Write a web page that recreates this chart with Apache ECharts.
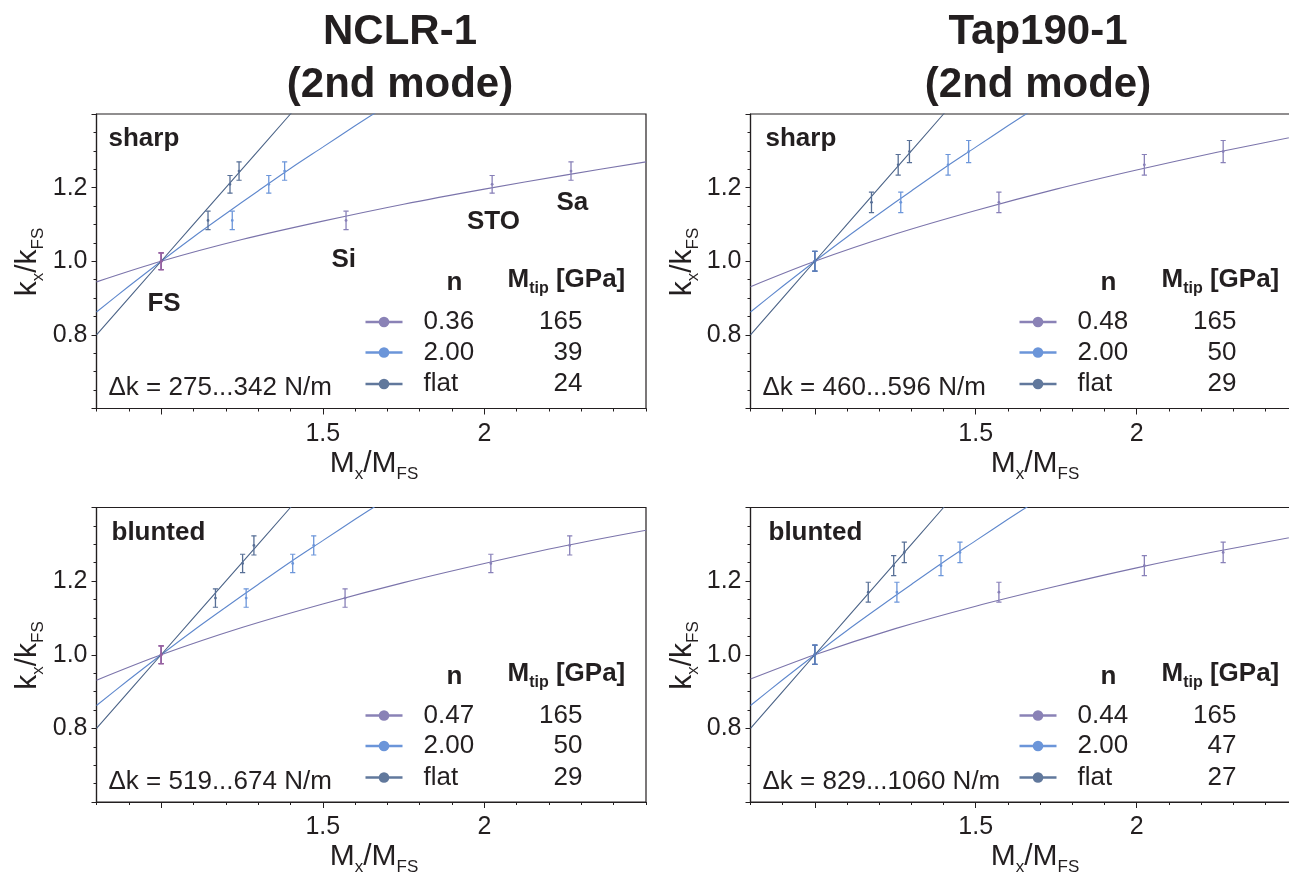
<!DOCTYPE html>
<html><head><meta charset="utf-8">
<script src="https://cdn.jsdelivr.net/npm/echarts@6/dist/echarts.min.js"></script>
<style>html,body{margin:0;padding:0;background:#fff}#c{width:1289px;height:884px}</style>
</head><body><div id="c"></div>
<script>
// ================= DATA =================
const columnTitles = ['NCLR-1\n(2nd mode)', 'Tap190-1\n(2nd mode)'];
const tipTags = ['sharp', 'sharp', 'blunted', 'blunted'];
const materials = ['FS', 'Si', 'STO', 'Sa'];

// measured stiffness ratio k_x/k_FS (FS, Si, STO, Sa)
const kTL = [1.000, 1.111, 1.209, 1.245];
const kTR = [1.000, 1.160, 1.262, 1.298];
const kBL = [1.000, 1.154, 1.248, 1.297];
const kBR = [1.000, 1.170, 1.242, 1.278];
const errTL = [0.023, 0.025, 0.024, 0.025];
const errTR = [0.027, 0.028, 0.028, 0.030];
const errBL = [0.024, 0.025, 0.025, 0.026];
const errBR = [0.026, 0.027, 0.027, 0.028];

// modulus ratio M_x/M_FS for each tip model (n-model, n = 2.00, flat)
const xnTL = [1.000, 1.572, 2.024, 2.268];
const x2TL = [1.000, 1.220, 1.333, 1.382];
const xfTL = [1.000, 1.145, 1.213, 1.241];
const xnTR = [1.000, 1.572, 2.024, 2.269];
const x2TR = [1.000, 1.267, 1.414, 1.478];
const xfTR = [1.000, 1.176, 1.259, 1.294];
const xnBL = [1.000, 1.569, 2.020, 2.264];
const x2BL = [1.000, 1.263, 1.407, 1.472];
const xfBL = [1.000, 1.168, 1.252, 1.287];
const xnBR = [1.000, 1.572, 2.024, 2.269];
const x2BR = [1.000, 1.255, 1.392, 1.451];
const xfBR = [1.000, 1.166, 1.245, 1.278];

// fitted curves
const fitXn = [0.8, 1.0, 1.25, 1.5, 1.75, 2.0, 2.25, 2.5];
const fitN_TL = [0.944, 1.000, 1.059, 1.109, 1.155, 1.196, 1.234, 1.270];
const fitN_TR = [0.931, 1.000, 1.074, 1.138, 1.196, 1.248, 1.296, 1.340];
const fitN_BL = [0.931, 1.000, 1.074, 1.138, 1.196, 1.248, 1.296, 1.338];
const fitN_BR = [0.934, 1.000, 1.071, 1.132, 1.186, 1.236, 1.281, 1.322];
const fitX2 = [0.8, 0.9, 1.0, 1.1, 1.2, 1.3, 1.4, 1.5, 1.6, 1.7];
const fit2 = [0.862, 0.932, 1.000, 1.066, 1.129, 1.191, 1.252, 1.310, 1.368, 1.424];
const fitXf = [0.8, 1.0, 1.2, 1.4, 1.5];
const fitF = [0.800, 1.000, 1.200, 1.400, 1.500];

// legend tables
const nTL = ['0.36', '2.00', 'flat'], mTL = ['165', '39', '24'], dkTL = '275...342 N/m';
const nTR = ['0.48', '2.00', 'flat'], mTR = ['165', '50', '29'], dkTR = '460...596 N/m';
const nBL = ['0.47', '2.00', 'flat'], mBL = ['165', '50', '29'], dkBL = '519...674 N/m';
const nBR = ['0.44', '2.00', 'flat'], mBR = ['165', '47', '27'], dkBR = '829...1060 N/m';

// x tick labels shown
const xTickLabels = ['1.5', '2'];
const xMajorTicks = [1.0, 1.5, 2.0];

// ================= STYLE / LAYOUT =================
const FONT = "'Liberation Sans', Arial, Helvetica, sans-serif";
const INK = '#231f20';
const LINE_COL = ['#7b74ab', '#5f88cd', '#4b6387'];
const ERR_COL = ['#8880b8', '#6c96da', '#576f96'];
const LEG_COL = ['#8a82b6', '#6b95d9', '#61789c'];
const FS_COL = ['#9561a1', '#5a7cb8', '#9561a1', '#5a7cb8'];
const GRIDS = [
  {left: 96.5, top: 114, width: 549.5, height: 294.5},
  {left: 750.5, top: 114, width: 547, height: 294.5},
  {left: 96.5, top: 507.5, width: 549.5, height: 294.5},
  {left: 750.5, top: 507.5, width: 547, height: 294.5}
];
const TAG_DX = [12, 15, 15, 18];

const panels = [
  {k: kTL, err: errTL, xs: [xnTL, x2TL, xfTL], fitN: fitN_TL, nv: nTL, mv: mTL, dk: dkTL},
  {k: kTR, err: errTR, xs: [xnTR, x2TR, xfTR], fitN: fitN_TR, nv: nTR, mv: mTR, dk: dkTR},
  {k: kBL, err: errBL, xs: [xnBL, x2BL, xfBL], fitN: fitN_BL, nv: nBL, mv: mBL, dk: dkBL},
  {k: kBR, err: errBR, xs: [xnBR, x2BR, xfBR], fitN: fitN_BR, nv: nBR, mv: mBR, dk: dkBR}
];

const option = {
  animation: false, backgroundColor: '#ffffff',
  grid: [], xAxis: [], yAxis: [], series: [], graphic: []
};

function zip(a, b) { return a.map((v, i) => [v, b[i]]); }

function errRender(color, fsColor) {
  return function (params, api) {
    const x = api.value(0), y = api.value(1), e = api.value(2);
    const t = api.coord([x, y + e]), b = api.coord([x, y - e]), c = api.coord([x, y]);
    const col = params.dataIndex === 0 ? fsColor : color;
    const w = 2.6;
    return {type: 'group', children: [
      {type: 'line', shape: {x1: t[0], y1: t[1], x2: b[0], y2: b[1]}, style: {stroke: col, lineWidth: 1.3}},
      {type: 'line', shape: {x1: t[0] - w, y1: t[1], x2: t[0] + w, y2: t[1]}, style: {stroke: col, lineWidth: 1.2}},
      {type: 'line', shape: {x1: b[0] - w, y1: b[1], x2: b[0] + w, y2: b[1]}, style: {stroke: col, lineWidth: 1.2}},
      {type: 'circle', shape: {cx: c[0], cy: c[1], r: 1.4}, style: {fill: col}}
    ]};
  };
}

function labelRender(params, api) {
  const c = api.coord([api.value(0), api.value(1)]);
  return {type: 'text', x: c[0], y: c[1],
    style: {text: materials[params.dataIndex], fontSize: 26, fontWeight: 'bold', fontFamily: FONT,
      fill: INK, align: 'center', verticalAlign: 'middle'}};
}

panels.forEach((p, i) => {
  const g = GRIDS[i];
  option.grid.push({left: g.left, top: g.top, width: g.width, height: g.height,
    outerBoundsMode: 'none', containLabel: false,
    show: true, borderColor: INK, borderWidth: 1.2, backgroundColor: 'transparent'});
  option.xAxis.push({
    gridIndex: i, type: 'value', min: 0.8, max: 2.5, interval: 0.1, position: 'bottom',
    axisLine: {show: true, lineStyle: {color: INK, width: 1.2}},
    axisTick: {show: true, length: 3, lineStyle: {color: INK, width: 1}},
    axisLabel: {show: true, margin: 13, fontSize: 25, color: INK, fontFamily: FONT,
      formatter: v => { const s = String(Math.round(v * 10) / 10); return xTickLabels.includes(s) ? s : ''; }},
    splitLine: {show: false}
  });
  option.xAxis.push({
    gridIndex: i, type: 'value', min: 0.8, max: 2.5, position: 'bottom', offset: 0,
    axisLine: {show: false},
    axisTick: {show: true, length: 6, customValues: xMajorTicks, lineStyle: {color: INK, width: 1}},
    axisLabel: {show: false}, splitLine: {show: false}
  });
  option.yAxis.push({
    gridIndex: i, type: 'value', min: 0.6, max: 1.4, interval: 0.2,
    axisLine: {show: true, lineStyle: {color: INK, width: 1.2}},
    axisTick: {show: true, length: 5, lineStyle: {color: INK, width: 1}},
    minorTick: {show: true, splitNumber: 4, length: 3, lineStyle: {color: INK, width: 1}},
    axisLabel: {show: true, margin: 9, fontSize: 25, color: INK, fontFamily: FONT,
      showMinLabel: false, showMaxLabel: false, formatter: v => v.toFixed(1)},
    splitLine: {show: false}, minorSplitLine: {show: false}
  });
  const xi = 2 * i;
  const fits = [zip(fitXn, p.fitN), zip(fitX2, fit2), zip(fitXf, fitF)];
  fits.forEach((d, s) => {
    option.series.push({type: 'line', xAxisIndex: xi, yAxisIndex: i, data: d, showSymbol: false,
      smooth: 0.3, clip: true, silent: true, z: 2,
      lineStyle: {color: LINE_COL[s], width: 1.1}});
  });
  [2, 1, 0].forEach(s => {
    option.series.push({type: 'custom', xAxisIndex: xi, yAxisIndex: i, z: 3, silent: true, clip: true,
      renderItem: errRender(ERR_COL[s], FS_COL[i]),
      data: p.xs[s].map((x, j) => [x, p.k[j], p.err[j]])});
  });

  // tag
  option.graphic.push({type: 'text', x: g.left + TAG_DX[i], y: g.top + 25, z: 10,
    style: {text: tipTags[i], fontSize: 26, fontWeight: 'bold', fontFamily: FONT, fill: INK,
      align: 'left', verticalAlign: 'middle'}});
  // legend headers
  option.graphic.push({type: 'text', x: g.left + 358, y: g.top + 169, z: 10,
    style: {text: 'n', fontSize: 26, fontWeight: 'bold', fontFamily: FONT, fill: INK,
      align: 'center', verticalAlign: 'middle'}});
  option.graphic.push({type: 'text', x: g.left + 411, y: g.top + 169, z: 10,
    style: {text: '{b|M}{s|tip}{b| [GPa]}', fill: INK, align: 'left', verticalAlign: 'middle',
      rich: {
        b: {fontSize: 26, fontWeight: 'bold', fontFamily: FONT, fill: INK, verticalAlign: 'bottom', lineHeight: 28, padding: [0, 0, 4, 0]},
        s: {fontSize: 16, fontWeight: 'bold', fontFamily: FONT, fill: INK, verticalAlign: 'bottom', lineHeight: 16}
      }}});
  const rowsY = [208, 238.5, 270];
  rowsY.forEach((dy, r) => {
    const y = g.top + dy;
    option.graphic.push({type: 'line', z: 10, shape: {x1: g.left + 269, y1: y, x2: g.left + 306, y2: y},
      style: {stroke: LEG_COL[r], lineWidth: 2.6}});
    option.graphic.push({type: 'circle', z: 11, shape: {cx: g.left + 287.5, cy: y, r: 5.3},
      style: {fill: LEG_COL[r]}});
    option.graphic.push({type: 'text', x: g.left + 327, y: y, z: 10,
      style: {text: p.nv[r], fontSize: 26, fontFamily: FONT, fill: INK, align: 'left', verticalAlign: 'middle'}});
    option.graphic.push({type: 'text', x: g.left + 486, y: y, z: 10,
      style: {text: p.mv[r], fontSize: 26, fontFamily: FONT, fill: INK, align: 'right', verticalAlign: 'middle'}});
  });
  option.graphic.push({type: 'text', x: g.left + 12, y: g.top + 274, z: 10,
    style: {text: '\u0394k = ' + p.dk, fontSize: 26, fontFamily: FONT, fill: INK, align: 'left', verticalAlign: 'middle'}});

  // axis titles
  const titleRich = {
    b: {fontSize: 30, fontFamily: FONT, fill: INK, verticalAlign: 'bottom', lineHeight: 30, padding: [0, 0, 4, 0]},
    s: {fontSize: 17, fontFamily: FONT, fill: INK, verticalAlign: 'bottom', lineHeight: 17}
  };
  const xTitleCx = i % 2 === 0 ? 374 : 1035;
  option.graphic.push({type: 'text', x: xTitleCx, y: g.top + g.height + 59, z: 10,
    style: {text: '{b|M}{s|x}{b|/M}{s|FS}', rich: titleRich, align: 'center', verticalAlign: 'middle'}});
  const yTitleCx = i % 2 === 0 ? 32 : 687;
  option.graphic.push({type: 'text', x: yTitleCx, y: g.top + 148, rotation: Math.PI / 2, z: 10,
    style: {text: '{b|k}{s|x}{b|/k}{s|FS}', rich: titleRich, align: 'center', verticalAlign: 'middle'}});
});

// material labels (top-left panel only)
const matLabelX = [1.009, 1.565, 2.028, 2.272];
const matLabelY = [0.883, 1.003, 1.106, 1.158];
option.series.push({type: 'custom', xAxisIndex: 0, yAxisIndex: 0, silent: true, z: 5, clip: false,
  renderItem: labelRender,
  data: matLabelX.map((x, j) => [x, matLabelY[j]])});

// column titles
[400, 1038].forEach((cx, c) => {
  option.graphic.push({type: 'text', x: cx, y: 6, z: 10,
    style: {text: columnTitles[c], fontSize: 42, fontWeight: 'bold', fontFamily: FONT, fill: INK,
      align: 'center', verticalAlign: 'top', lineHeight: 53}});
});

const chart = echarts.init(document.getElementById('c'), null, {renderer: 'canvas'});
chart.setOption(option);
</script>
</body></html>
